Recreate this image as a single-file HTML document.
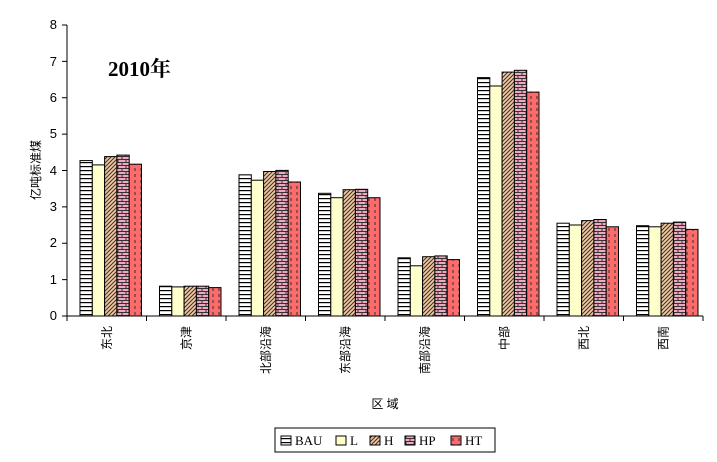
<!DOCTYPE html><html><head><meta charset="utf-8"><style>body{margin:0;background:#fff}</style></head><body>
<svg width="717" height="457" xmlns="http://www.w3.org/2000/svg" font-family="'Liberation Sans','Noto Sans CJK SC',sans-serif">
<defs>
<pattern id="pB" width="4" height="4" patternUnits="userSpaceOnUse"><rect width="4" height="4" fill="#fff"/><rect y="2" width="4" height="1.2" fill="#000"/></pattern>
<pattern id="pH" width="4" height="4" patternUnits="userSpaceOnUse"><rect width="4" height="4" fill="#F4C8A0"/><path d="M-1,1 L1,-1 M0,4 L4,0 M3,5 L5,3" stroke="#333" stroke-width="1"/></pattern>
<pattern id="pP" width="8" height="6" patternUnits="userSpaceOnUse"><rect width="8" height="6" fill="#F0A8C0"/><path d="M0,0.5H8M0,3.5H8M2,0V3M6,3V6" stroke="#333" stroke-width="1"/></pattern>
<pattern id="pT" width="6" height="6" patternUnits="userSpaceOnUse"><rect width="6" height="6" fill="#FF6A6A"/><path d="M3,0V3" stroke="#333" stroke-width="1"/></pattern>
</defs>
<rect width="717" height="457" fill="#fff"/>
<g stroke="#000" stroke-width="1">
<g fill="url(#pB)">
<rect x="80" y="160.6" width="12.3" height="155.4"/>
<rect x="159.5" y="286.2" width="12.3" height="29.8"/>
<rect x="239" y="174.8" width="12.3" height="141.2"/>
<rect x="318.5" y="193.3" width="12.3" height="122.7"/>
<rect x="398" y="257.8" width="12.3" height="58.2"/>
<rect x="477.5" y="77.6" width="12.3" height="238.4"/>
<rect x="557" y="223.2" width="12.3" height="92.8"/>
<rect x="636.5" y="225.7" width="12.3" height="90.3"/>
</g>
<g fill="#FFFFCC">
<rect x="92.3" y="164.9" width="12.3" height="151.1"/>
<rect x="171.8" y="286.9" width="12.3" height="29.1"/>
<rect x="251.3" y="180.2" width="12.3" height="135.8"/>
<rect x="330.8" y="197.7" width="12.3" height="118.3"/>
<rect x="410.3" y="265.8" width="12.3" height="50.2"/>
<rect x="489.8" y="86" width="12.3" height="230"/>
<rect x="569.3" y="225" width="12.3" height="91"/>
<rect x="648.8" y="226.8" width="12.3" height="89.2"/>
</g>
<g fill="url(#pH)">
<rect x="104.6" y="156.6" width="12.3" height="159.4"/>
<rect x="184.1" y="286.2" width="12.3" height="29.8"/>
<rect x="263.6" y="171.5" width="12.3" height="144.5"/>
<rect x="343.1" y="189.7" width="12.3" height="126.3"/>
<rect x="422.6" y="256.7" width="12.3" height="59.3"/>
<rect x="502.1" y="72.1" width="12.3" height="243.9"/>
<rect x="581.6" y="220.6" width="12.3" height="95.4"/>
<rect x="661.1" y="223.2" width="12.3" height="92.8"/>
</g>
<g fill="url(#pP)">
<rect x="116.9" y="155.1" width="12.3" height="160.9"/>
<rect x="196.4" y="286.2" width="12.3" height="29.8"/>
<rect x="275.9" y="170.4" width="12.3" height="145.6"/>
<rect x="355.4" y="189.3" width="12.3" height="126.7"/>
<rect x="434.9" y="255.9" width="12.3" height="60.1"/>
<rect x="514.4" y="70.3" width="12.3" height="245.7"/>
<rect x="593.9" y="219.5" width="12.3" height="96.5"/>
<rect x="673.4" y="222.1" width="12.3" height="93.9"/>
</g>
<g fill="url(#pT)">
<rect x="129.2" y="164.2" width="12.3" height="151.8"/>
<rect x="208.7" y="287.6" width="12.3" height="28.4"/>
<rect x="288.2" y="182" width="12.3" height="134"/>
<rect x="367.7" y="197.7" width="12.3" height="118.3"/>
<rect x="447.2" y="259.6" width="12.3" height="56.4"/>
<rect x="526.7" y="92.1" width="12.3" height="223.9"/>
<rect x="606.2" y="226.8" width="12.3" height="89.2"/>
<rect x="685.7" y="229.4" width="12.3" height="86.6"/>
</g>
</g>
<g stroke="#000">
<line x1="67" y1="25" x2="67" y2="316"/>
<line x1="67" y1="316" x2="703" y2="316"/>
<path d="M67,316v5M146.5,316v5M226,316v5M305.5,316v5M385,316v5M464.5,316v5M544,316v5M623.5,316v5M703,316v5"/>
<path d="M62,316h5M62,279.6h5M62,243.3h5M62,206.9h5M62,170.5h5M62,134.1h5M62,97.8h5M62,61.4h5M62,25h5"/>
</g>
<g font-size="13" text-anchor="end">
<text x="57" y="320">0</text><text x="57" y="284">1</text><text x="57" y="247">2</text><text x="57" y="211">3</text><text x="57" y="175">4</text><text x="57" y="138">5</text><text x="57" y="102">6</text><text x="57" y="66">7</text><text x="57" y="29">8</text>
</g>
<g font-size="12" text-anchor="end">
<text transform="translate(110.75,326) rotate(-90)">东北</text>
<text transform="translate(190.25,326) rotate(-90)">京津</text>
<text transform="translate(269.75,326) rotate(-90)">北部沿海</text>
<text transform="translate(349.25,326) rotate(-90)">东部沿海</text>
<text transform="translate(428.75,326) rotate(-90)">南部沿海</text>
<text transform="translate(508.25,326) rotate(-90)">中部</text>
<text transform="translate(587.75,326) rotate(-90)">西北</text>
<text transform="translate(667.25,326) rotate(-90)">西南</text>
</g>
<text x="108" y="76" font-family="'Liberation Serif','Noto Serif CJK SC',serif" font-weight="bold" font-size="21">2010年</text>
<text transform="translate(40,170) rotate(-90)" font-size="12" text-anchor="middle">亿吨标准煤</text>
<text x="385" y="408" font-size="12" text-anchor="middle">区 域</text>
<rect x="275" y="428" width="220" height="24" fill="#fff" stroke="#000"/>
<g font-size="13" font-family="'Liberation Serif',serif">
<rect x="281" y="436" width="10" height="9" fill="url(#pB)" stroke="#000"/><text x="295" y="445">BAU</text>
<rect x="336" y="436" width="10" height="9" fill="#FFFFCC" stroke="#000"/><text x="350" y="445">L</text>
<rect x="370" y="436" width="10" height="9" fill="url(#pH)" stroke="#000"/><text x="384" y="445">H</text>
<rect x="405" y="436" width="10" height="9" fill="url(#pP)" stroke="#000"/><text x="419" y="445">HP</text>
<rect x="451" y="436" width="10" height="9" fill="url(#pT)" stroke="#000"/><text x="465" y="445">HT</text>
</g>
</svg></body></html>
